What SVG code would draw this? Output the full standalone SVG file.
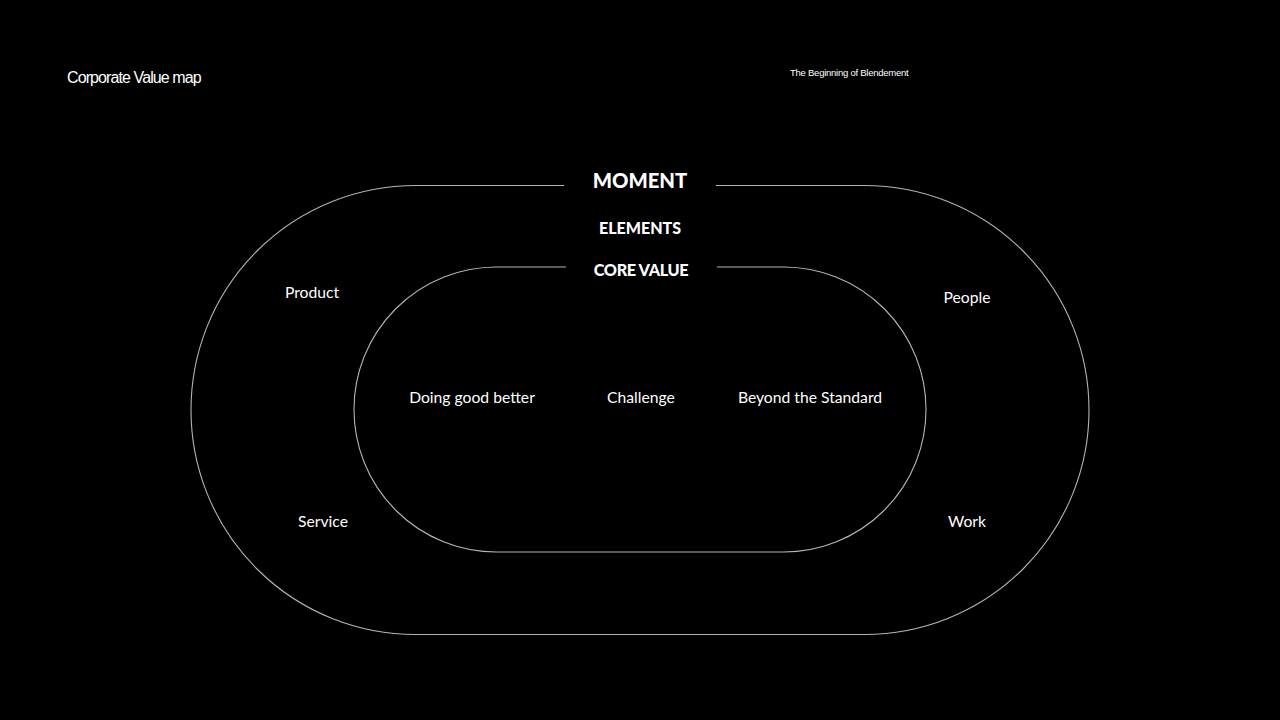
<svg xmlns="http://www.w3.org/2000/svg" width="1280" height="720" viewBox="0 0 1280 720">
<style>
.bg{fill:#000}
.ring{fill:none;stroke:#b4b4b4;stroke-width:1.1}
.h{font-family:Lato,"Noto Sans",sans-serif;font-weight:900;fill:#fff;text-anchor:middle}
.t{font-family:Lato,"Noto Sans",sans-serif;font-size:15.7px;fill:#fff;text-anchor:middle}
.s{font-family:"Liberation Sans",Arial,sans-serif;fill:#fff}
</style>
<rect class="bg" x="0" y="0" width="1280" height="720"/>
<g id="connectors">
<path id="outer-ring" class="ring" d="M 564 185.5 H 415.5 A 224.5 224.5 0 0 0 415.5 634.5 H 864.5 A 224.5 224.5 0 0 0 864.5 185.5 H 716"/>
<path id="inner-ring" class="ring" d="M 566 267 H 496.5 A 142.5 142.5 0 0 0 496.5 552 H 783.5 A 142.5 142.5 0 0 0 783.5 267 H 717"/>
</g>
<g id="title"><text class="s" x="67" y="83" font-size="16" letter-spacing="-0.9">Corporate Value map</text></g>
<g id="subtitle"><text class="s" x="790" y="76" font-size="9.5" letter-spacing="-0.25">The Beginning of Blendement</text></g>
<g id="moment"><text class="h" x="640" y="188" font-size="20.3">MOMENT</text></g>
<g id="elements"><text class="h" x="640" y="234" font-size="16">ELEMENTS</text></g>
<g id="core-value"><text class="h" x="641" y="276" font-size="16.3" letter-spacing="-0.4">CORE VALUE</text></g>
<g id="product"><text class="t" x="312" y="298">Product</text></g>
<g id="people"><text class="t" x="967" y="303">People</text></g>
<g id="service"><text class="t" x="323" y="527">Service</text></g>
<g id="work"><text class="t" x="967" y="527">Work</text></g>
<g id="doing-good-better"><text class="t" x="472" y="403">Doing good better</text></g>
<g id="challenge"><text class="t" x="641" y="403">Challenge</text></g>
<g id="beyond-the-standard"><text class="t" x="810" y="403">Beyond the Standard</text></g>
</svg>
